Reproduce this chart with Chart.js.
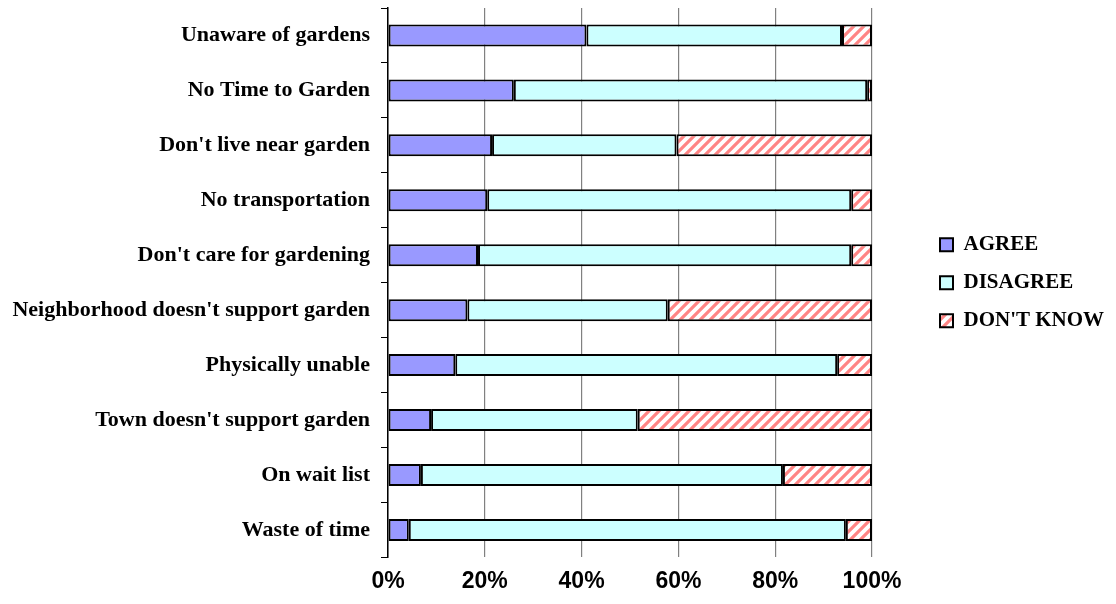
<!DOCTYPE html>
<html>
<head>
<meta charset="utf-8">
<script src="https://cdn.jsdelivr.net/npm/chart.js@4/dist/chart.umd.min.js"></script>
<style>
  html, body { margin: 0; padding: 0; background: #fff; }
  #wrap { width: 1116px; height: 604px; }
</style>
</head>
<body>
<div id="wrap"><canvas id="gardenChart" width="1116" height="604"></canvas></div>
<script>
// Barriers to community gardening (share of respondents)
const categories = [
    'Unaware of gardens',
    'No Time to Garden',
    "Don't live near garden",
    'No transportation',
    "Don't care for gardening",
    "Neighborhood doesn't support garden",
    'Physically unable',
    "Town doesn't support garden",
    'On wait list',
    'Waste of time'
];
const agreeValues = [41, 26, 21.5, 20.5, 18.6, 16.4, 13.9, 8.9, 6.8, 4.3];
const disagreeValues = [52.8, 73, 38.1, 75.2, 77.1, 41.4, 78.9, 42.7, 74.8, 90.3];
const dontKnowValues = [6.2, 1, 40.4, 4.3, 4.3, 42.2, 7.2, 48.4, 18.4, 5.4];
const xTicks = [0, 20, 40, 60, 80, 100];

// red diagonal hatch used for "DON'T KNOW"
function makeHatch() {
    const size = 10;
    const c = document.createElement('canvas');
    c.width = size;
    c.height = size;
    const g = c.getContext('2d');
    g.fillStyle = '#ffffff';
    g.fillRect(0, 0, size, size);
    g.strokeStyle = '#ff8585';
    g.lineWidth = 3.2;
    g.beginPath();
    g.moveTo(-size / 2, size / 2); g.lineTo(size / 2, -size / 2);
    g.moveTo(0, size); g.lineTo(size, 0);
    g.moveTo(size / 2, size * 1.5); g.lineTo(size * 1.5, size / 2);
    g.stroke();
    return g.createPattern(c, 'repeat');
}
const hatch = makeHatch();

const serifBold = { family: '"Liberation Serif", "Times New Roman", serif', size: 22, weight: 'bold' };
const legendFont = { family: '"Liberation Serif", "Times New Roman", serif', size: 21, weight: 'bold' };
const sansBold = { family: '"Liberation Sans", Arial, sans-serif', size: 23, weight: 'bold' };

const gardenData = {
    labels: categories,
    datasets: [{
        label: 'AGREE',
        data: agreeValues,
        backgroundColor: '#9999ff',
        borderColor: '#000000',
        borderWidth: 2,
        borderSkipped: false
    }, {
        label: 'DISAGREE',
        data: disagreeValues,
        backgroundColor: '#ccffff',
        borderColor: '#000000',
        borderWidth: 2,
        borderSkipped: false
    }, {
        label: "DON'T KNOW",
        data: dontKnowValues,
        backgroundColor: hatch,
        borderColor: '#000000',
        borderWidth: 2,
        borderSkipped: false
    }]
};

const noEdgePadding = (scale) => {
    scale.paddingTop = 0;
    scale.paddingBottom = 0;
};

const gardenChartConfig = {
    type: 'bar',
    data: gardenData,
    options: {
        indexAxis: 'y',
        responsive: false,
        animation: false,
        barPercentage: 0.4,
        categoryPercentage: 1,
        layout: {
            padding: { left: 8, top: 8, right: 10, bottom: -1 }
        },
        scales: {
            x: {
                stacked: true,
                min: 0,
                max: 100,
                afterBuildTicks: (scale) => {
                    scale.ticks = xTicks.map(v => ({ value: v }));
                },
                ticks: {
                    color: '#000',
                    font: sansBold,
                    padding: 10,
                    callback: (v) => v + '%'
                },
                grid: {
                    color: '#808080',
                    lineWidth: 1.2,
                    drawTicks: false
                },
                border: { display: false }
            },
            y: {
                stacked: true,
                afterFit: (scale) => {
                    scale.width = 380;
                    noEdgePadding(scale);
                },
                ticks: {
                    color: '#000',
                    font: serifBold,
                    padding: 11
                },
                grid: {
                    drawOnChartArea: false,
                    offset: true,
                    color: '#000',
                    tickLength: 7
                },
                border: { color: '#000', width: 1.5 }
            },
            // spacer between plot and legend
            gap: {
                type: 'category',
                position: 'right',
                afterFit: (scale) => {
                    scale.width = 51;
                    noEdgePadding(scale);
                },
                ticks: { display: false },
                grid: { display: false },
                border: { display: false }
            }
        },
        plugins: {
            legend: {
                display: true,
                position: 'right',
                fullSize: false,
                labels: {
                    color: '#000',
                    font: legendFont,
                    boxWidth: 13,
                    boxHeight: 13,
                    padding: 17
                }
            },
            tooltip: {
                enabled: false
            }
        }
    }
};

new Chart(document.getElementById('gardenChart'), gardenChartConfig);
</script>
</body>
</html>
